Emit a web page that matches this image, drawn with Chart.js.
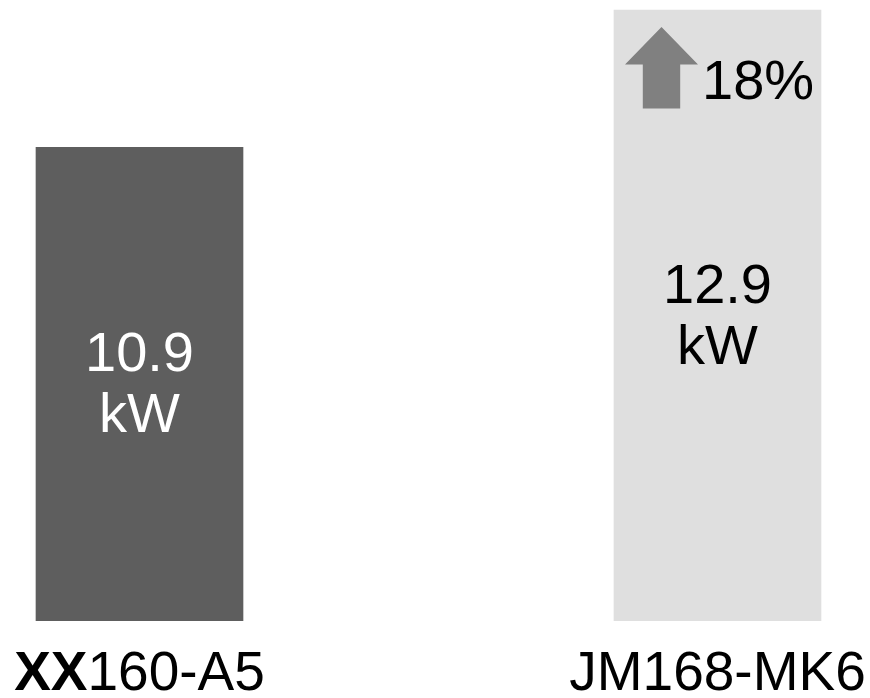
<!DOCTYPE html>
<html>
<head>
<meta charset="utf-8">
<script src="https://cdn.jsdelivr.net/npm/chart.js@4/dist/chart.umd.min.js"></script>
<style>
  html, body { margin: 0; padding: 0; background: #ffffff; }
  #wrap { width: 870px; height: 698px; }
</style>
</head>
<body>
<div id="wrap"><canvas id="c" width="870" height="698"></canvas></div>
<script>
// Rated output of the two units, in kW
const models = ['XX160-A5', 'JM168-MK6'];
const boldPrefix = ['XX', ''];          // leading part of each model name set in bold
const powerKW = [10.9, 12.9];
const unit = 'kW';
const axisMin = 4;                      // value axis starts here (bars grow from it)
const axisMax = 12.9;
const barColors = ['#5e5e5e', '#dfdfdf'];
const valueColors = ['#ffffff', '#000000'];

const FONT = '"Liberation Sans", Arial, Helvetica, sans-serif';

// Increase of the second unit over the first, shown next to the arrow
const gainPct = Math.round((powerKW[1] - powerKW[0]) / powerKW[0] * 100);

const annotate = {
  id: 'annotate',
  afterDatasetsDraw(chart) {
    const ctx = chart.ctx;
    const meta = chart.getDatasetMeta(0);
    const xs = chart.scales.x;

    ctx.save();
    // value + unit centred inside each bar
    meta.data.forEach((bar, i) => {
      const cy = (bar.y + bar.base) / 2;
      ctx.fillStyle = valueColors[i];
      ctx.font = '56px ' + FONT;
      ctx.textAlign = 'center';
      ctx.textBaseline = 'alphabetic';
      ctx.fillText(powerKW[i].toFixed(1), bar.x, cy - 12.5);
      ctx.fillText(unit, bar.x, cy + 48.5);
    });

    // up arrow and percentage at the top of the taller bar
    const b = meta.data[1];
    const left = b.x - b.width / 2;
    const top = b.y;
    const ax = left + 47.5;
    ctx.fillStyle = '#808080';
    ctx.beginPath();
    ctx.moveTo(ax, top + 17);
    ctx.lineTo(ax + 36.5, top + 54.5);
    ctx.lineTo(ax + 18.7, top + 54.5);
    ctx.lineTo(ax + 18.7, top + 98.5);
    ctx.lineTo(ax - 18.7, top + 98.5);
    ctx.lineTo(ax - 18.7, top + 54.5);
    ctx.lineTo(ax - 36.5, top + 54.5);
    ctx.closePath();
    ctx.fill();

    ctx.fillStyle = '#000000';
    ctx.font = '56px ' + FONT;
    ctx.textAlign = 'left';
    ctx.fillText(gainPct + '%', left + 88, top + 89);

    // model names under the bars, with the bold prefix
    models.forEach((name, i) => {
      const x = xs.getPixelForTick(i);
      const y = 690;
      const pre = boldPrefix[i];
      const rest = name.slice(pre.length);
      ctx.font = 'bold 55px ' + FONT;
      const wPre = ctx.measureText(pre).width;
      ctx.font = '55px ' + FONT;
      const wRest = ctx.measureText(rest).width;
      let sx = x - (wPre + wRest) / 2;
      ctx.textAlign = 'left';
      ctx.fillStyle = '#000000';
      if (pre) {
        ctx.font = 'bold 55px ' + FONT;
        ctx.fillText(pre, sx, y);
        sx += wPre;
      }
      ctx.font = '55px ' + FONT;
      ctx.fillText(rest, sx, y);
    });
    ctx.restore();
  }
};

new Chart(document.getElementById('c'), {
  type: 'bar',
  data: {
    labels: models,
    datasets: [{
      data: powerKW,
      base: axisMin,
      clip: false,
      backgroundColor: barColors,
      borderWidth: 0,
      barThickness: 207
    }]
  },
  options: {
    responsive: false,
    animation: false,
    events: [],
    layout: { padding: { left: 139.5, right: 152.5, top: 10, bottom: 77.3 } },
    plugins: { legend: { display: false }, tooltip: { enabled: false } },
    scales: {
      x: { display: false, offset: false, grid: { display: false } },
      y: { display: false, min: axisMin, max: axisMax, grid: { display: false } }
    }
  },
  plugins: [annotate]
});
</script>
</body>
</html>
